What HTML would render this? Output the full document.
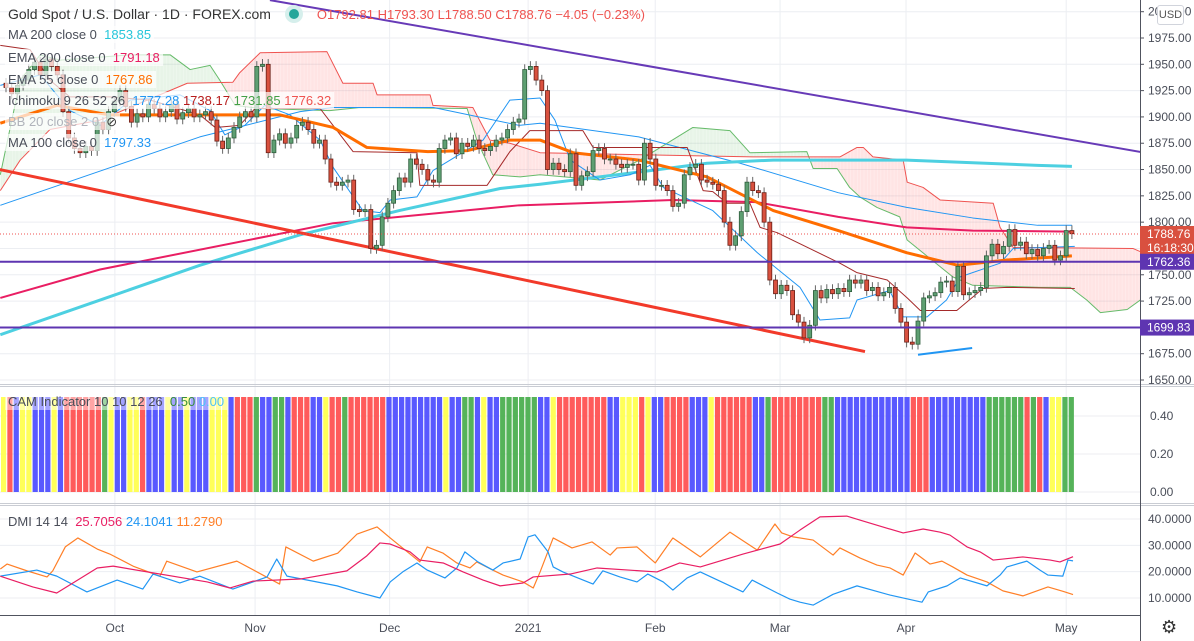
<!DOCTYPE html>
<html><head><meta charset="utf-8"><style>
html,body{margin:0;padding:0;background:#fff;}
body{width:1194px;height:641px;overflow:hidden;position:relative;font-family:"Liberation Sans",sans-serif;}
svg{position:absolute;left:0;top:0;}
.lg{position:absolute;left:5px;font-size:13px;color:#4a4e59;white-space:nowrap;background:rgba(255,255,255,0.7);padding:0 3px;line-height:17px;}
</style></head><body>
<svg id="chart" width="1194" height="641" xmlns="http://www.w3.org/2000/svg"></svg>

<div class="lg" style="top:6px;font-size:14px;color:#333;background:none">Gold Spot / U.S. Dollar · 1D · FOREX.com <span style="display:inline-block;width:10px;height:10px;border-radius:5px;background:#26a69a;margin:0 18px 0 14px;box-shadow:0 0 0 4px #d6efec"></span><span style="color:#ef5350;font-size:13px">O1792.81 H1793.30 L1788.50 C1788.76 −4.05 (−0.23%)</span></div>
<div class="lg" style="top:26px">MA 200 close 0 &nbsp;<span style="color:#26c6da">1853.85</span></div>
<div class="lg" style="top:49px">EMA 200 close 0 &nbsp;<span style="color:#e91e63">1791.18</span></div>
<div class="lg" style="top:71px">EMA 55 close 0 &nbsp;<span style="color:#ff6d00">1767.86</span></div>
<div class="lg" style="top:92px">Ichimoku 9 26 52 26 &nbsp;<span style="color:#2196f3">1777.28</span> <span style="color:#b71c1c">1738.17</span> <span style="color:#43a047">1731.85</span> <span style="color:#ef5350">1776.32</span></div>
<div class="lg" style="top:113px;color:#b0b3bb">BB 20 close 2 0 &nbsp;<span style="color:#333">⊘</span></div>
<div class="lg" style="top:134px">MA 100 close 0 &nbsp;<span style="color:#2196f3">1797.33</span></div>
<div class="lg" style="top:393px;background:rgba(255,255,255,0.45)">CAM Indicator 10 10 12 26 &nbsp;<span style="color:#388e3c">0.50</span> <span style="color:#4fc3f7">0.00</span></div>
<div class="lg" style="top:513px;background:none">DMI 14 14 &nbsp;<span style="color:#e91e63">25.7056</span> <span style="color:#2196f3">24.1041</span> <span style="color:#ff7f27">11.2790</span></div>
<div style="position:absolute;left:1157px;top:5px;width:25px;height:18px;border:1px solid #d1d4dc;border-radius:3px;background:#fff;font-size:11px;color:#555;text-align:center;line-height:18px;">USD</div>
<div style="position:absolute;left:1161px;top:617px;font-size:18px;color:#333;">⚙</div>

<script>
const closes=[1928,1922,1930,1935,1945,1952,1940,1955,1948,1940,1905,1880,1870,1866,1872,1868,1895,1888,1905,1915,1925,1910,1895,1903,1900,1912,1908,1900,1905,1912,1898,1904,1908,1900,1902,1905,1897,1877,1870,1880,1890,1900,1905,1900,1948,1950,1866,1878,1884,1875,1880,1892,1895,1888,1875,1878,1860,1838,1835,1838,1840,1812,1810,1812,1775,1778,1805,1818,1830,1842,1838,1860,1855,1850,1840,1838,1870,1878,1880,1865,1875,1872,1878,1870,1868,1872,1878,1880,1888,1895,1898,1945,1948,1935,1925,1850,1856,1850,1848,1865,1835,1844,1848,1868,1870,1860,1860,1855,1852,1855,1855,1840,1875,1860,1835,1835,1830,1815,1818,1845,1852,1855,1840,1838,1836,1830,1800,1778,1787,1810,1838,1830,1828,1800,1745,1732,1740,1735,1712,1705,1690,1702,1735,1728,1736,1732,1737,1734,1745,1742,1745,1735,1738,1730,1733,1738,1718,1705,1686,1684,1706,1728,1730,1733,1743,1744,1734,1758,1731,1733,1735,1738,1768,1779,1770,1777,1793,1778,1781,1770,1774,1768,1775,1778,1764,1768,1792,1789];
const firstOpen=1932;
const ema55=[[-1,1894],[9,1911],[18,1902],[40,1902],[48,1902],[57.4,1890],[63.3,1871],[74,1867],[81,1868],[88.4,1878],[93.7,1878],[99.5,1866],[111,1859],[123,1843],[134.6,1811],[146,1792],[158,1771],[167,1759],[175.6,1764],[187,1768]];
const ma200=[[-1,1693],[16.5,1726],[34,1759],[51.6,1788],[69,1811],[86.7,1832],[93.7,1836],[113,1849],[123,1856],[134.6,1859],[158,1859],[181,1854],[187,1853]];
const ema200=[[-1,1728],[16.5,1755],[57.4,1799],[90,1816],[117,1821],[131.7,1819],[146,1805],[158,1795],[169.6,1792],[187,1791]];
const ma100=[[-1,1816],[34,1881],[51.6,1905],[57.4,1909],[75,1909],[90,1892],[93.7,1894],[111,1881],[128.8,1856],[146,1828],[158,1814],[169.6,1804],[181,1797],[187,1797]];
const tenkan=[[-1,1930],[6,1940],[11.2,1906],[16.5,1892],[21.8,1916],[30.5,1921],[35.8,1906],[38.4,1883],[41.9,1892],[45.4,1911],[49.8,1902],[55.1,1878],[57.4,1852],[62.6,1811],[65.6,1809],[67.4,1821],[72.1,1824],[74.9,1849],[83.7,1878],[88.4,1916],[93.7,1918],[96.3,1897],[99,1859],[104.2,1840],[109.5,1845],[113,1854],[115.3,1833],[124,1811],[131.8,1771],[139.3,1738],[142.8,1707],[148,1709],[149.3,1726],[155,1735],[157.4,1710],[161.6,1710],[165,1726],[167.4,1748],[174.4,1761],[176.7,1775],[187.5,1777]];
const kijun=[[-1,1968],[4.2,1964],[7.7,1935],[11.2,1919],[18.2,1919],[25.3,1916],[34,1902],[36.7,1890],[41,1892],[43.7,1908],[55.1,1908],[60.9,1867],[72.1,1866],[72.6,1835],[84.4,1835],[88.4,1867],[91.9,1887],[101.2,1887],[103,1871],[119.5,1871],[122.3,1830],[124,1829],[126.5,1818],[130.5,1818],[132.3,1795],[135.3,1790],[146.3,1761],[149.3,1752],[154.6,1745],[158.1,1728],[160.4,1716],[166.8,1716],[171.4,1737],[175.6,1738],[187.5,1737]];
const spanA=[[-1,1845],[2.5,1935],[6,1959],[9.5,1954],[21.8,1959],[28.8,1959],[32.3,1945],[35.8,1949],[37.5,1935],[40.2,1911],[44.6,1908],[56.8,1906],[62.1,1909],[80.9,1908],[82.6,1878],[85.4,1845],[90.2,1843],[93.7,1845],[104.2,1840],[111.2,1859],[120.5,1890],[127,1887],[130.5,1866],[140.5,1867],[141.6,1851],[145.8,1851],[148,1833],[149.8,1824],[152.8,1814],[156.8,1805],[158.1,1783],[166.1,1748],[169.6,1740],[181.4,1738],[186.7,1738],[189.6,1726],[192,1714],[196.7,1717],[199,1726]];
const spanB=[[-1,1830],[2.5,1859],[7.7,1888],[16.5,1897],[31.8,1932],[39.8,1933],[41,1942],[44.6,1961],[56.3,1962],[59.1,1932],[64.4,1932],[65.1,1921],[74.4,1921],[74.9,1911],[81.9,1909],[84.9,1878],[88.4,1875],[93.7,1866],[131,1862],[146.3,1862],[149.3,1871],[150.4,1871],[152.1,1862],[157.4,1859],[158.1,1838],[160.9,1833],[163.9,1821],[173.2,1818],[174.4,1795],[176.7,1776],[197.7,1775],[199,1772]];
const hLevels=[1762.36,1699.83];
const lastPrice=1788.76;
const priceTicks=[1650,1675,1700,1725,1750,1775,1800,1825,1850,1875,1900,1925,1950,1975,2000];
const camColors="YRBYYBBBYBRRRRRRGYBBYYRBBBYBBYBBBYYYBRRRGBBGGBRRRBBYRRGRRRRRRBBBBBBBBBYBBGGBYBBGGGGGGBBYRRRRRRRRBBYYYRYBBRRRRBBBYRRRRRRBBGRRRRRRRRGGBBBBBBBBBBBBRRRBBBBBBBBBGGGGGGRGRBYYGG";
const camTicks=[0,0.2,0.4];
const dmiPlus=[[-1,18.3],[4.7,14.2],[8.9,11.9],[16,21.4],[18.8,22.1],[35.3,16.1],[39.3,13.8],[43.3,16.4],[51.6,17.2],[59.8,20.3],[63.3,26],[65.6,30.9],[67.4,30.5],[70.9,27.5],[72.6,24.4],[76.7,23.3],[80.2,19.9],[83.7,16.8],[86.7,14.6],[90.7,15.7],[92.5,18],[99,19.1],[103.7,21.4],[114.2,19.9],[118.2,23.3],[121.8,21.8],[129.3,26.7],[135.8,30.5],[139.3,35.8],[142.8,40.8],[147.5,41.1],[149.8,39.6],[153.3,37.3],[157.4,34.7],[160.9,36.2],[163.9,35],[165.6,33.9],[168.6,29.4],[170.9,27.5],[173.2,24.4],[178.4,25.6],[183.2,24.4],[184.9,23.7],[187.2,25.7]];
const dmiMinus=[[-1,18.3],[5.4,20.6],[8.9,18.3],[14.2,12.3],[19.5,16.8],[24,13.4],[25.8,19.1],[30.5,15.7],[34,18.3],[39.8,13.4],[45.8,18],[47.5,24.8],[49.3,18.3],[58.1,14.6],[61.6,12.3],[65.6,10],[67.4,16.1],[69.6,19.9],[72.1,23.3],[73.9,20.6],[77,17.6],[79.1,21.4],[80.5,27.5],[82.8,23.7],[85.4,20.6],[87.2,23.3],[90.2,24.8],[91.6,33.2],[92.8,34],[95.1,27.5],[96,21.8],[97.7,19.9],[103,15.3],[104.7,20.3],[107.7,18],[110.7,16.1],[112.6,19.1],[115.3,16.1],[117,13],[119.5,17.6],[121.8,19.9],[129.3,12.3],[130.9,16.8],[135.3,11.9],[137.5,9.6],[139.3,8.4],[141.6,7.3],[145.1,11.4],[149.3,14.6],[155.1,11.1],[160.7,8.4],[161.8,12.3],[165.1,14.6],[167.4,17.6],[172.1,14.6],[174.4,18.7],[175.6,21.8],[179.1,24],[181.4,20.6],[182.8,18.7],[185.4,18.3],[186.3,24.4],[187.2,24.1]];
const adx=[[-1,21],[0.2,22.9],[3.7,20.3],[7.2,18],[8.2,20.3],[10.4,29.4],[12.6,32.8],[16,28.6],[18.2,26.7],[22.3,22.1],[27,18.3],[28.2,24],[33.5,19.9],[40.5,24],[48,15.3],[49.1,29.4],[53.9,24],[58.2,27],[61.6,34.3],[65.1,37],[67.4,32.8],[72.6,23.7],[73.9,29.4],[76.7,27],[79.1,23.3],[81.4,21.4],[82.6,23.7],[85.4,20.6],[87.2,18.7],[90.7,16.1],[92.5,13.8],[93.7,19.9],[96,32.8],[99.3,29],[102.8,31.3],[106,26.3],[107.2,29],[110.7,29.4],[113.9,23.3],[117,32.8],[121.8,25.6],[127,35],[131.8,28.2],[134.9,38.1],[136.1,34.7],[138.1,33.2],[141.6,32],[145.1,26.3],[146.3,29],[149.8,25.2],[152.8,22.5],[155.1,21.4],[157.4,18.7],[159.5,27.1],[162.1,22.9],[164.2,24],[166.1,21.8],[168.6,18.7],[172.1,16.1],[174.9,12.7],[178.4,10.8],[182.8,14.2],[185.5,12.5],[187.2,11.3]];
const dmiTicks=[10,20,30,40];
const monthLabels=["Oct","Nov","Dec","2021","Feb","Mar","Apr","May"];
const monthIdx=[19.1,43.7,67.3,91.6,113.9,135.8,157.9,186];
const trendPurple=[[46.3,2011],[199,1866.7]];
const trendRed=[[-1.1,1850],[150.7,1677]];
const blueSeg=[[160,1674],[169.5,1680.4]];

const NS="http://www.w3.org/2000/svg";
const svg=document.getElementById('chart');
const X=i=>6+5.7*i;
const Y=p=>38+(1975-p)*1.0523;
const YC=v=>492-v*190;
const YD=v=>519+(40-v)*2.633;
function el(tag,attrs,parent){const e=document.createElementNS(NS,tag);for(const k in attrs)e.setAttribute(k,attrs[k]);(parent||svg).appendChild(e);return e;}
const defs=el('defs',{});
const cp=el('clipPath',{id:'mainClip'},defs);el('rect',{x:0,y:0,width:1140,height:384},cp);
const cp2=el('clipPath',{id:'dmiClip'},defs);el('rect',{x:0,y:505,width:1140,height:110},cp2);

const grid=el('g',{});


monthIdx.forEach(i=>{el('line',{x1:X(i),x2:X(i),y1:0,y2:615,stroke:'#eceef2','stroke-width':1},grid);});
priceTicks.forEach(p=>{el('line',{x1:0,x2:1140,y1:Y(p),y2:Y(p),stroke:'#eceef2'},grid);});
camTicks.forEach(v=>{el('line',{x1:0,x2:1140,y1:YC(v),y2:YC(v),stroke:'#eceef2'},grid);});
dmiTicks.forEach(v=>{el('line',{x1:0,x2:1140,y1:YD(v),y2:YD(v),stroke:'#eceef2'},grid);});

const main=el('g',{'clip-path':'url(#mainClip)'});



function interp(arr,i){if(i<=arr[0][0])return arr[0][1];for(let k=1;k<arr.length;k++){if(i<=arr[k][0]){const a=arr[k-1],b=arr[k];return a[1]+(b[1]-a[1])*(i-a[0])/(b[0]-a[0]);}}return arr[arr.length-1][1];}
const cloud=el('g',{},main);


for(let i=-1;i<199;i+=0.25){const a0=interp(spanA,i),a1=interp(spanA,i+0.25),b0=interp(spanB,i),b1=interp(spanB,i+0.25);
 const col=(a0+a1)>=(b0+b1)?'rgba(76,175,80,0.10)':'rgba(255,82,82,0.12)';
 el('polygon',{points:`${X(i)},${Y(a0)} ${X(i+0.25)+0.3},${Y(a1)} ${X(i+0.25)+0.3},${Y(b1)} ${X(i)},${Y(b0)}`,fill:col},cloud);}
function line(arr,color,w,name,fn,parent){const pts=arr.map(d=>X(d[0])+','+(fn||Y)(d[1])).join(' ');const e=el('polyline',{points:pts,fill:'none',stroke:color,'stroke-width':w,'stroke-linejoin':'round'},parent||main);
return e;}
line(spanA,'#66bb6a',1,'ichimoku-span-a');
line(spanB,'#ef5350',1,'ichimoku-span-b');
line(ma100,'#2196f3',1,'ma100-line');
line(ema200,'#e91e63',2,'ema200-line');
line(ma200,'#4dd0e1',3,'ma200-line');
line(tenkan,'#2196f3',1,'ichimoku-conversion');
line(kijun,'#a52a2a',1,'ichimoku-base');
line(ema55,'#ff6d00',3,'ema55-line');
const tp=el('line',{x1:X(trendPurple[0][0]),y1:Y(trendPurple[0][1]),x2:X(trendPurple[1][0]),y2:Y(trendPurple[1][1]),stroke:'#673ab7','stroke-width':2},main);


const tr=el('line',{x1:X(trendRed[0][0]),y1:Y(trendRed[0][1]),x2:X(trendRed[1][0]),y2:Y(trendRed[1][1]),stroke:'#f23a2a','stroke-width':3},main);


const sb=el('line',{x1:X(blueSeg[0][0]),y1:Y(blueSeg[0][1]),x2:X(blueSeg[1][0]),y2:Y(blueSeg[1][1]),stroke:'#2196f3','stroke-width':2},main);


const cg=el('g',{},main);


closes.forEach((c,i)=>{const o=i?closes[i-1]:firstOpen;const up=c>=o;const hi=Math.max(o,c)+5,lo=Math.min(o,c)-5;const x=X(i);
 const g=el('g',{},cg);
 
 
 el('line',{x1:x,x2:x,y1:Y(hi),y2:Y(lo),stroke:'#666','stroke-width':1},g);
 const top=Y(Math.max(o,c)),h=Math.max(1,Y(Math.min(o,c))-top);
 el('rect',{x:x-2,y:top,width:4,height:h,fill:up?'#5e9f72':'#d9513f',stroke:up?'#2e5e3c':'#6b1f16','stroke-width':0.8},g);});
hLevels.forEach(p=>{const l=el('line',{x1:0,x2:1140,y1:Y(p),y2:Y(p),stroke:'#5e35b1','stroke-width':2},svg);
 
 });
const lp=el('line',{x1:0,x2:1140,y1:Y(lastPrice),y2:Y(lastPrice),stroke:'#ef5350','stroke-width':1,'stroke-dasharray':'1,2'});



const cam=el('g',{});


const cmap={R:'#ff5252',B:'#5050ff',Y:'#ffff50',G:'#4caf50'};
const cw=1074/camColors.length;
for(let k=0;k<camColors.length;k++){const r=el('rect',{x:1+k*cw,y:YC(0.5),width:cw-1.1,height:YC(0)-YC(0.5),fill:cmap[camColors[k]],opacity:0.95},cam);
 
 }

const dg=el('g',{'clip-path':'url(#dmiClip)'});


line(adx,'#ff7f27',1.2,'adx-line',YD,dg);
line(dmiMinus,'#2196f3',1.2,'minus-di-line',YD,dg);
line(dmiPlus,'#e91e63',1.2,'plus-di-line',YD,dg);

[[0,384.5,1194,384.5],[0,386.5,1194,386.5],[0,503.5,1194,503.5],[0,505.5,1194,505.5],[0,615.5,1140,615.5]].forEach(s=>{el('line',{x1:s[0],y1:s[1],x2:s[2],y2:s[3],stroke:'#c9ccd3','stroke-width':1});});
el('line',{x1:1140.5,y1:0,x2:1140.5,y2:641,stroke:'#50535e','stroke-width':1});
el('line',{x1:0,y1:615.5,x2:1140,y2:615.5,stroke:'#50535e','stroke-width':1});
function txt(x,y,s,opt,name){const t=el('text',Object.assign({x:x,y:y,'font-size':12,fill:'#4a4e59','font-family':'Liberation Sans, sans-serif'},opt||{}));t.textContent=s;
 
 return t;}
priceTicks.forEach(p=>{el('line',{x1:1140,x2:1144,y1:Y(p),y2:Y(p),stroke:'#50535e'});txt(1148,Y(p)+4,p.toFixed(2),{},'price-tick-label');});
camTicks.forEach(v=>{txt(1150,YC(v)+4,v.toFixed(2),{},'cam-tick-label');});
dmiTicks.forEach(v=>{txt(1148,YD(v)+4,v.toFixed(4),{},'dmi-tick-label');});
monthIdx.forEach((i,k)=>{txt(X(i),632,monthLabels[k],{'text-anchor':'middle'},'time-axis-label');});
function badge(p,h,col,lines,name){const y=Y(p);const g=el('g',{});
 
 
 el('rect',{x:1140,y:y-8,width:54,height:h,fill:col},g);
 lines.forEach((s,k)=>{const t=el('text',{x:1147,y:y+4+k*14,'font-size':12,fill:'#fff','font-family':'Liberation Sans, sans-serif'},g);t.textContent=s;});}
badge(lastPrice,30,'#d9503f',[lastPrice.toFixed(2),'16:18:30'],'last-price-badge');
hLevels.forEach(p=>badge(p,16,'#5e35b1',[p.toFixed(2)],'level-badge'));
</script>
</body></html>
